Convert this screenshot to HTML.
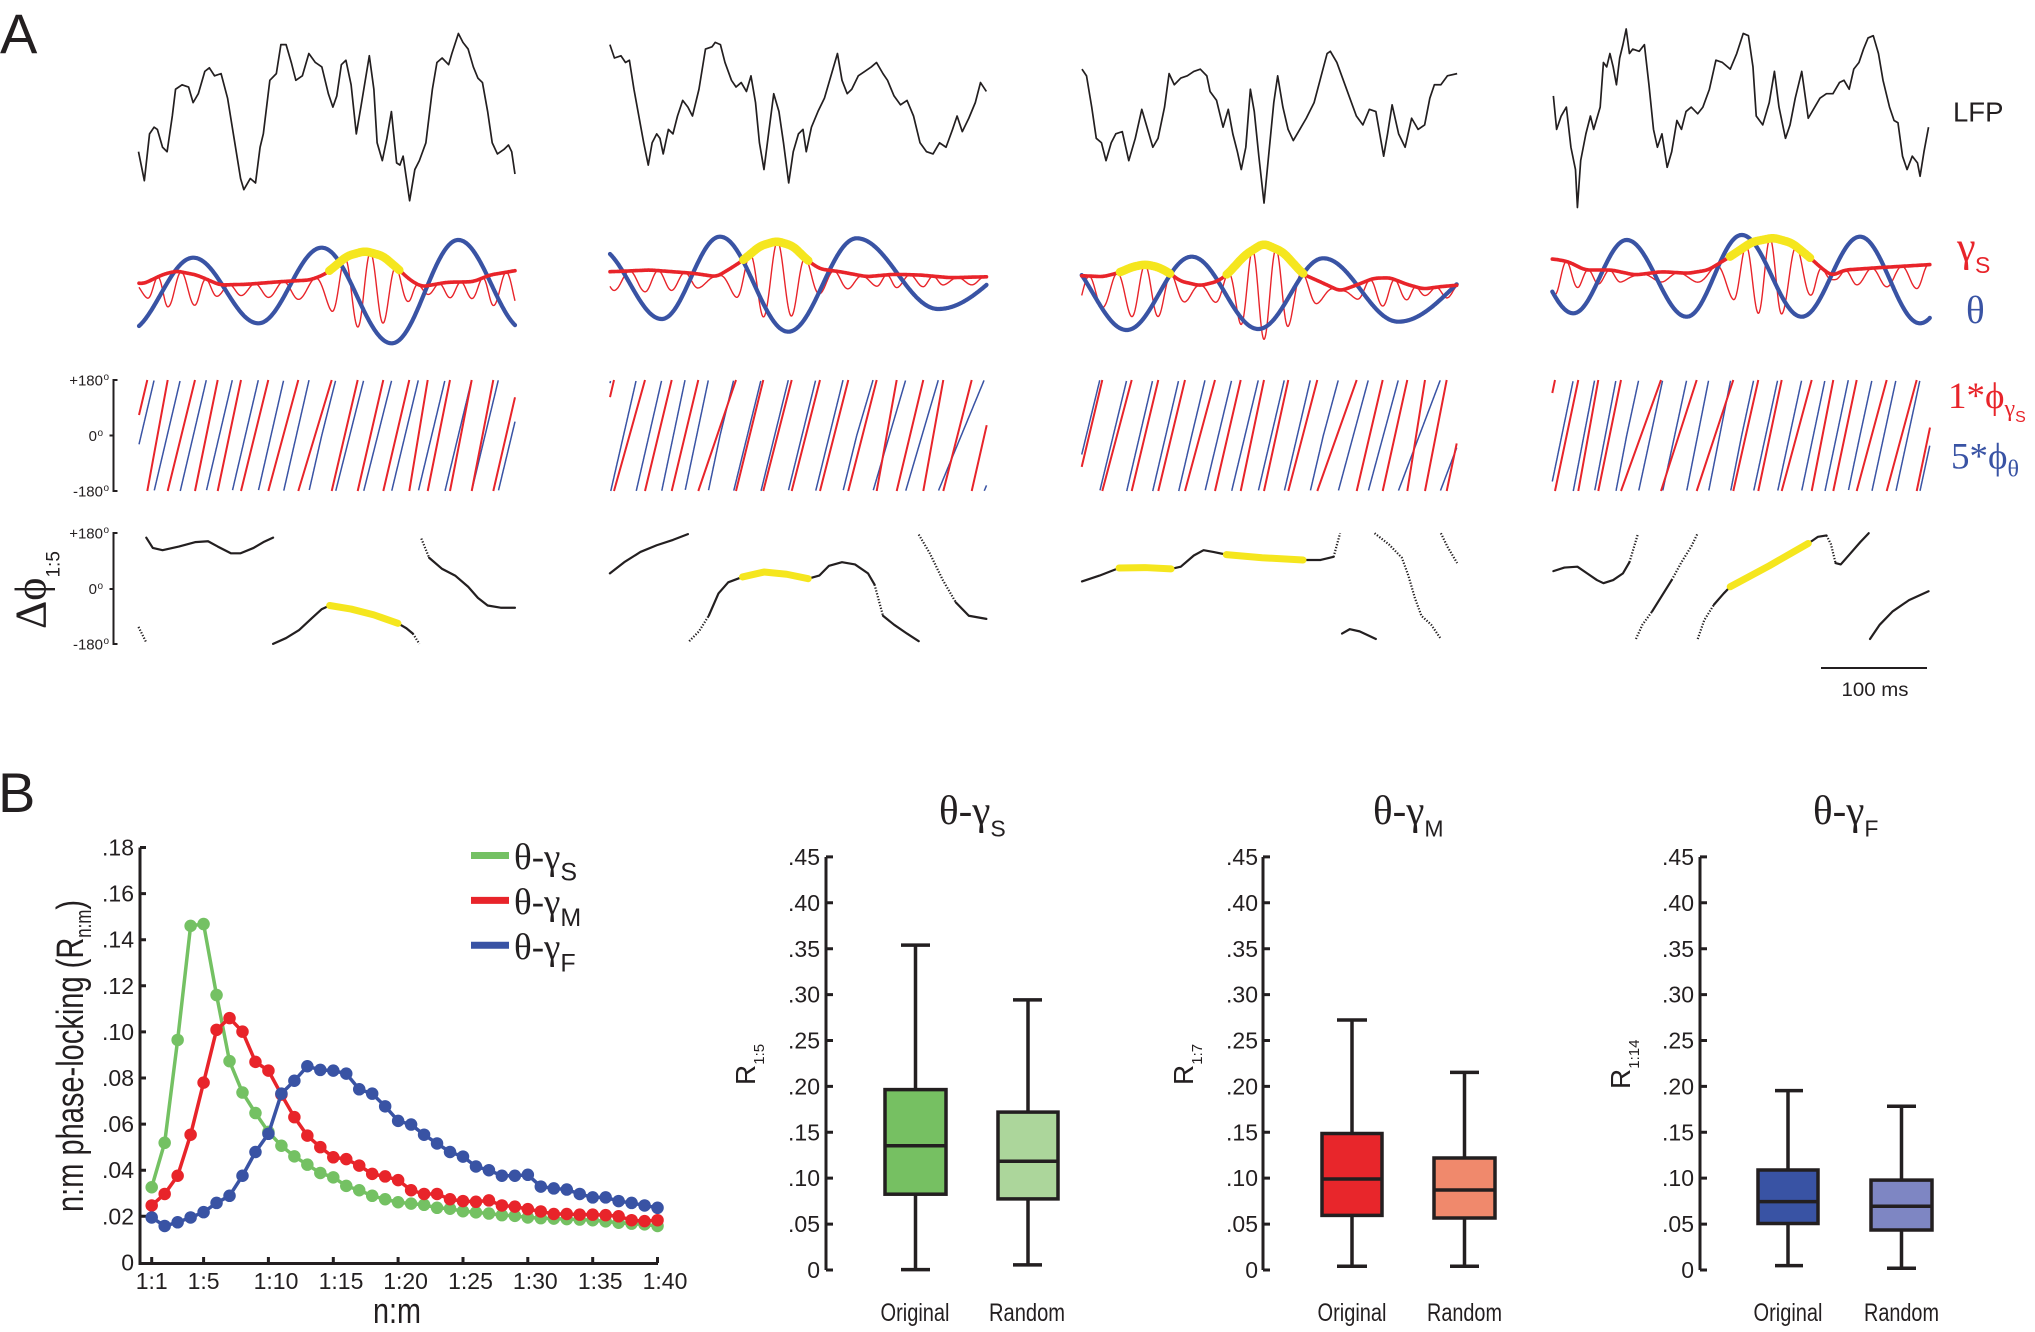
<!DOCTYPE html>
<html><head><meta charset="utf-8"><style>
html,body{margin:0;padding:0;background:#fff;}
svg{display:block;}
.s{font-family:"Liberation Sans",Arial,sans-serif;}
.r{font-family:"Liberation Serif","Times New Roman",serif;}
</style></head><body>
<svg id="fig" xmlns="http://www.w3.org/2000/svg" width="2035" height="1332" viewBox="0 0 2035 1332">
<rect width="2035" height="1332" fill="#fff"/>
<text class="s" x="0" y="53" font-size="56" fill="#231f20">A</text>
<text class="s" x="-2" y="812" font-size="56" fill="#231f20">B</text>

<!-- LFP traces -->
<g transform="scale(0.6502,0.4462)" fill="none" stroke="#231f20" stroke-linejoin="round">
<polyline vector-effect="non-scaling-stroke" stroke-width="1.7" points="213,340 222,405 230,300 237,285 242,290 250,330 257,340 265,260 270,200 280,190 290,195 297,230 305,210 315,160 322,152 330,170 340,165 350,220 360,310 370,400 375,425 385,400 393,410 400,330 405,300 410,240 415,180 425,165 432,100 440,100 448,140 455,180 465,170 475,120 485,140 495,150 505,210 512,240 518,215 525,145 532,135 540,190 548,300 555,240 568,125 575,200 580,320 588,360 595,310 602,250 610,365 615,370 620,350 625,400 630,450 638,380 645,360 655,320 665,200 672,140 680,130 690,145 695,120 705,75 712,95 720,110 728,150 735,175 742,185 750,250 757,320 765,345 775,335 782,325 787,340 792,390"/>
<polyline vector-effect="non-scaling-stroke" stroke-width="1.7" points="938,100 945,130 955,125 962,140 968,135 975,200 985,280 990,320 997,370 1003,320 1010,300 1015,310 1020,345 1028,290 1035,300 1042,260 1050,225 1058,240 1065,260 1075,200 1085,110 1095,105 1100,95 1108,100 1115,140 1125,180 1132,195 1140,185 1148,205 1155,170 1162,230 1168,320 1175,380 1182,300 1190,210 1198,250 1205,320 1213,410 1220,340 1228,300 1235,290 1240,340 1248,285 1258,250 1268,220 1280,160 1288,120 1295,180 1303,210 1310,200 1320,170 1330,160 1340,150 1348,140 1358,165 1365,180 1375,215 1385,235 1395,225 1405,260 1415,320 1425,340 1435,345 1445,320 1455,330 1465,290 1472,260 1480,295 1490,265 1500,230 1508,185 1517,205"/>
</g>
<g transform="translate(1015,0) scale(0.6502,0.4462)" fill="none" stroke="#231f20" stroke-linejoin="round">
<polyline vector-effect="non-scaling-stroke" stroke-width="1.7" points="103,155 110,170 118,240 125,310 133,320 140,360 148,320 155,300 165,295 175,360 185,310 195,245 205,295 212,330 220,310 230,240 237,165 245,190 255,175 265,170 275,160 285,155 295,170 300,205 310,225 320,285 328,245 335,300 342,340 348,380 355,330 362,200 368,250 375,350 383,455 390,350 398,230 404,170 412,240 420,290 428,315 438,290 448,265 460,230 470,175 480,120 485,115 495,140 505,180 515,220 525,260 535,280 545,245 555,250 567,350 573,300 580,235 590,300 600,330 610,265 620,290 630,280 638,220 645,190 655,190 665,170 680,165"/>
<polyline vector-effect="non-scaling-stroke" stroke-width="1.7" points="828,215 833,290 840,260 848,240 855,330 862,380 865,465 870,360 878,300 885,260 890,290 900,240 905,140 910,150 915,120 920,150 925,190 930,130 935,100 940,65 945,120 950,110 960,115 968,100 975,190 982,290 988,330 995,300 1003,375 1010,340 1018,270 1025,290 1032,250 1040,240 1050,255 1058,240 1068,200 1078,135 1088,140 1100,155 1110,120 1120,75 1128,80 1135,150 1140,260 1150,280 1160,230 1168,160 1175,240 1185,310 1192,280 1200,220 1210,160 1220,265 1228,245 1238,220 1248,210 1258,210 1268,185 1275,180 1283,200 1290,155 1298,140 1305,110 1312,85 1320,80 1328,120 1335,180 1345,240 1352,270 1358,275 1365,350 1372,380 1380,350 1388,365 1392,395 1398,340 1405,285"/>
</g>

<!-- Delta phi curves -->
<g transform="scale(0.6502,0.4462)" fill="none" stroke-linejoin="round" stroke-linecap="round">
<g stroke="#231f20" stroke-width="2.2">
<polyline vector-effect="non-scaling-stroke" points="225,1205 235,1228 250,1233 275,1225 300,1215 320,1213 335,1225 355,1240 370,1240 390,1228 405,1215 420,1205"/>
<polyline vector-effect="non-scaling-stroke" points="420,1443 440,1430 460,1412 480,1385 495,1365 507,1357"/>
<polyline vector-effect="non-scaling-stroke" points="612,1397 625,1408 635,1420"/>
<polyline vector-effect="non-scaling-stroke" points="660,1250 680,1275 700,1290 720,1315 735,1340 750,1357 770,1362 792,1362"/>
<polyline vector-effect="non-scaling-stroke" points="938,1285 960,1260 985,1237 1010,1222 1035,1210 1058,1197"/>
<polyline vector-effect="non-scaling-stroke" points="1090,1380 1105,1330 1120,1305 1142,1293"/>
<polyline vector-effect="non-scaling-stroke" points="1243,1297 1260,1290 1275,1268 1295,1260 1315,1265 1335,1285 1345,1310"/>
<polyline vector-effect="non-scaling-stroke" points="1358,1380 1375,1400 1395,1420 1413,1437"/>
<polyline vector-effect="non-scaling-stroke" points="1470,1350 1490,1380 1517,1387"/>
</g>
<g stroke="#231f20" stroke-width="2.2" stroke-dasharray="1.3 1.7" stroke-linecap="butt">
<polyline vector-effect="non-scaling-stroke" points="213,1405 225,1440"/>
<polyline vector-effect="non-scaling-stroke" points="635,1420 645,1443"/>
<polyline vector-effect="non-scaling-stroke" points="648,1207 660,1250"/>
<polyline vector-effect="non-scaling-stroke" points="1060,1437 1075,1415 1090,1380"/>
<polyline vector-effect="non-scaling-stroke" points="1345,1310 1358,1380"/>
<polyline vector-effect="non-scaling-stroke" points="1413,1198 1430,1240 1450,1300 1470,1350"/>
</g>
<g stroke="#f5e61e" stroke-width="7">
<polyline vector-effect="non-scaling-stroke" points="507,1357 540,1365 575,1378 612,1397"/>
<polyline vector-effect="non-scaling-stroke" points="1142,1293 1175,1282 1210,1287 1243,1297"/>
</g>
</g>
<g transform="translate(1015,0) scale(0.6502,0.4462)" fill="none" stroke-linejoin="round" stroke-linecap="round">
<g stroke="#231f20" stroke-width="2.2">
<polyline vector-effect="non-scaling-stroke" points="103,1303 130,1290 160,1273"/>
<polyline vector-effect="non-scaling-stroke" points="240,1275 255,1270 275,1245 290,1233 305,1237 325,1243"/>
<polyline vector-effect="non-scaling-stroke" points="443,1255 470,1255 490,1248"/>
<polyline vector-effect="non-scaling-stroke" points="503,1420 515,1410 530,1415 555,1432"/>
<polyline vector-effect="non-scaling-stroke" points="828,1280 845,1272 865,1270 880,1285 895,1300 905,1307 920,1300 935,1285 945,1260"/>
<polyline vector-effect="non-scaling-stroke" points="980,1370 995,1335 1010,1300"/>
<polyline vector-effect="non-scaling-stroke" points="1075,1355 1090,1330 1100,1315"/>
<polyline vector-effect="non-scaling-stroke" points="1220,1218 1235,1203 1248,1200"/>
<polyline vector-effect="non-scaling-stroke" points="1262,1262 1270,1265 1285,1240 1300,1215 1313,1195"/>
<polyline vector-effect="non-scaling-stroke" points="1315,1432 1330,1400 1350,1370 1375,1345 1405,1325"/>
</g>
<g stroke="#231f20" stroke-width="2.2" stroke-dasharray="1.3 1.7" stroke-linecap="butt">
<polyline vector-effect="non-scaling-stroke" points="490,1248 500,1195"/>
<polyline vector-effect="non-scaling-stroke" points="553,1195 575,1220 595,1250 605,1290 615,1340 625,1380 640,1400 655,1432"/>
<polyline vector-effect="non-scaling-stroke" points="655,1195 665,1225 680,1262"/>
<polyline vector-effect="non-scaling-stroke" points="945,1260 958,1197"/>
<polyline vector-effect="non-scaling-stroke" points="955,1432 965,1400 980,1370"/>
<polyline vector-effect="non-scaling-stroke" points="1010,1300 1025,1260 1040,1225 1050,1195"/>
<polyline vector-effect="non-scaling-stroke" points="1050,1432 1060,1390 1075,1355"/>
<polyline vector-effect="non-scaling-stroke" points="1248,1200 1255,1220 1262,1262"/>
</g>
<g stroke="#f5e61e" stroke-width="7">
<polyline vector-effect="non-scaling-stroke" points="160,1273 200,1272 240,1275"/>
<polyline vector-effect="non-scaling-stroke" points="325,1243 380,1250 443,1255"/>
<polyline vector-effect="non-scaling-stroke" points="1100,1315 1160,1268 1220,1218"/>
</g>
</g>

<!-- Panel A axes -->
<g stroke="#231f20" stroke-width="2" fill="none">
<path d="M117.5 380H113.5V491H117.5M109.5 435.5H113.5"/>
<path d="M117.5 533H113.5V644H117.5M109.5 589H113.5"/>
</g>
<g class="s" font-size="15" fill="#231f20" text-anchor="end">
<text x="103" y="385.5">+180</text><text x="97" y="441">0</text><text x="103" y="496.5">-180</text>
<text x="103" y="538.5">+180</text><text x="97" y="594">0</text><text x="103" y="649.5">-180</text>
</g>
<g class="s" font-size="10" fill="#231f20">
<text x="103.5" y="380">o</text><text x="97.5" y="436">o</text><text x="103.5" y="491">o</text>
<text x="103.5" y="533">o</text><text x="97.5" y="589">o</text><text x="103.5" y="644">o</text>
</g>
<text class="r" transform="translate(45.5,629) rotate(-90)" font-size="44" fill="#231f20">Δϕ<tspan font-family="Liberation Sans, Arial, sans-serif" font-size="19" dy="14">1:5</tspan></text>

<!-- Right labels -->
<text class="s" x="1953" y="121.4" font-size="27.5" fill="#231f20">LFP</text>
<text class="r" x="1957" y="261" font-size="42" fill="#e8242a">γ</text>
<text class="s" x="1975" y="273" font-size="23" fill="#e8242a">S</text>
<text class="r" x="1966" y="323" font-size="39" fill="#3953a4">θ</text>
<text class="r" x="1948" y="408" font-size="37" fill="#e8242a">1*ϕ<tspan font-size="24" dy="8">γ</tspan><tspan font-family="Liberation Sans, Arial, sans-serif" font-size="16" dy="6">S</tspan></text>
<text class="r" x="1951" y="468.5" font-size="37" fill="#3953a4">5*ϕ<tspan font-size="24" dy="8">θ</tspan></text>
<path d="M1821 668H1927" stroke="#231f20" stroke-width="2"/>
<text class="s" x="1875" y="696" font-size="19" text-anchor="middle" fill="#231f20" textLength="67" lengthAdjust="spacingAndGlyphs">100 ms</text>

<g id="dyn"></g>

<!-- Panel B line chart -->
<g stroke="#231f20" stroke-width="3" fill="none">
<path d="M140 847.5V1263.5H658"/>
<path d="M140 1216.3h6M140 1170.2h6M140 1124.1h6M140 1078h6M140 1031.9h6M140 985.8h6M140 939.7h6M140 893.6h6M140 847.5h6"/>
<path d="M151.7 1263v-6M203.6 1263v-6M268.4 1263v-6M333.3 1263v-6M398.1 1263v-6M463 1263v-6M527.8 1263v-6M592.7 1263v-6M657.5 1263v-6"/>
</g>
<g class="s" font-size="23" fill="#231f20" text-anchor="end">
<text x="134" y="1270.4">0</text><text x="134" y="1224.3">.02</text><text x="134" y="1178.2">.04</text><text x="134" y="1132.1">.06</text><text x="134" y="1086">.08</text><text x="134" y="1039.9">.10</text><text x="134" y="993.8">.12</text><text x="134" y="947.7">.14</text><text x="134" y="901.6">.16</text><text x="134" y="855.5">.18</text>
</g>
<g class="s" font-size="23" fill="#231f20" text-anchor="middle">
<text x="151.7" y="1289">1:1</text><text x="203.6" y="1289">1:5</text><text x="276" y="1289">1:10</text><text x="341" y="1289">1:15</text><text x="405.6" y="1289">1:20</text><text x="470.5" y="1289">1:25</text><text x="535.3" y="1289">1:30</text><text x="600.2" y="1289">1:35</text><text x="665" y="1289">1:40</text>
</g>
<text class="s" x="397" y="1323" font-size="36" text-anchor="middle" fill="#231f20" textLength="48" lengthAdjust="spacingAndGlyphs">n:m</text>
<text class="s" transform="translate(83,1212) rotate(-90)" font-size="38" fill="#231f20" textLength="312" lengthAdjust="spacingAndGlyphs">n:m phase-locking (R<tspan font-size="22" dy="8">n:m</tspan><tspan dy="-8">)</tspan></text>

<g transform="translate(151.7,1262.4) scale(12.97,-2305)" fill="none" stroke-linejoin="round">
<path vector-effect="non-scaling-stroke" stroke="#74c163" stroke-width="3.5" d="M0 .0326L1 .0519L2 .0965L3 .146L4 .1468L5 .116L6 .0873L7 .0737L8 .0648L9 .0566L10 .0506L11 .046L12 .0424L13 .0388L14 .0369L15 .0332L16 .0313L17 .0289L18 .0274L19 .0261L20 .0255L21 .025L22 .0237L23 .0233L24 .0222L25 .0217L26 .0212L27 .0205L28 .0202L29 .0195L30 .0192L31 .019L32 .0188L33 .0186L34 .0183L35 .0178L36 .0172L37 .0168L38 .0165L39 .0158"/>
<path vector-effect="non-scaling-stroke" stroke="#74c163" stroke-width="12.5" stroke-linecap="round" d="M0 .0326h.001M1 .0519h.001M2 .0965h.001M3 .146h.001M4 .1468h.001M5 .116h.001M6 .0873h.001M7 .0737h.001M8 .0648h.001M9 .0566h.001M10 .0506h.001M11 .046h.001M12 .0424h.001M13 .0388h.001M14 .0369h.001M15 .0332h.001M16 .0313h.001M17 .0289h.001M18 .0274h.001M19 .0261h.001M20 .0255h.001M21 .025h.001M22 .0237h.001M23 .0233h.001M24 .0222h.001M25 .0217h.001M26 .0212h.001M27 .0205h.001M28 .0202h.001M29 .0195h.001M30 .0192h.001M31 .019h.001M32 .0188h.001M33 .0186h.001M34 .0183h.001M35 .0178h.001M36 .0172h.001M37 .0168h.001M38 .0165h.001M39 .0158h.001"/>
<path vector-effect="non-scaling-stroke" stroke="#e8242a" stroke-width="3.5" d="M0 .0247L1 .0297L2 .0376L3 .0554L4 .078L5 .1009L6 .106L7 .1001L8 .087L9 .0832L10 .0728L11 .063L12 .055L13 .05L14 .0456L15 .0448L16 .042L17 .0384L18 .0373L19 .0357L20 .0313L21 .0297L22 .0297L23 .0274L24 .0266L25 .0263L26 .0269L27 .0247L28 .0242L29 .0231L30 .0221L31 .021L32 .021L33 .0207L34 .0207L35 .0205L36 .02L37 .0183L38 .0179L39 .0183"/>
<path vector-effect="non-scaling-stroke" stroke="#e8242a" stroke-width="12.5" stroke-linecap="round" d="M0 .0247h.001M1 .0297h.001M2 .0376h.001M3 .0554h.001M4 .078h.001M5 .1009h.001M6 .106h.001M7 .1001h.001M8 .087h.001M9 .0832h.001M10 .0728h.001M11 .063h.001M12 .055h.001M13 .05h.001M14 .0456h.001M15 .0448h.001M16 .042h.001M17 .0384h.001M18 .0373h.001M19 .0357h.001M20 .0313h.001M21 .0297h.001M22 .0297h.001M23 .0274h.001M24 .0266h.001M25 .0263h.001M26 .0269h.001M27 .0247h.001M28 .0242h.001M29 .0231h.001M30 .0221h.001M31 .021h.001M32 .021h.001M33 .0207h.001M34 .0207h.001M35 .0205h.001M36 .02h.001M37 .0183h.001M38 .0179h.001M39 .0183h.001"/>
<path vector-effect="non-scaling-stroke" stroke="#3953a4" stroke-width="3.5" d="M0 .0195L1 .0158L2 .0174L3 .0195L4 .0218L5 .0258L6 .0289L7 .0376L8 .0479L9 .0558L10 .0732L11 .0788L12 .0851L13 .0835L14 .0832L15 .0819L16 .0751L17 .0732L18 .0677L19 .0614L20 .0598L21 .0554L22 .0516L23 .0479L24 .0459L25 .0416L26 .04L27 .0376L28 .0376L29 .038L30 .0329L31 .0321L32 .0316L33 .0297L34 .0282L35 .0282L36 .0266L37 .0258L38 .0247L39 .0237"/>
<path vector-effect="non-scaling-stroke" stroke="#3953a4" stroke-width="12.5" stroke-linecap="round" d="M0 .0195h.001M1 .0158h.001M2 .0174h.001M3 .0195h.001M4 .0218h.001M5 .0258h.001M6 .0289h.001M7 .0376h.001M8 .0479h.001M9 .0558h.001M10 .0732h.001M11 .0788h.001M12 .0851h.001M13 .0835h.001M14 .0832h.001M15 .0819h.001M16 .0751h.001M17 .0732h.001M18 .0677h.001M19 .0614h.001M20 .0598h.001M21 .0554h.001M22 .0516h.001M23 .0479h.001M24 .0459h.001M25 .0416h.001M26 .04h.001M27 .0376h.001M28 .0376h.001M29 .038h.001M30 .0329h.001M31 .0321h.001M32 .0316h.001M33 .0297h.001M34 .0282h.001M35 .0282h.001M36 .0266h.001M37 .0258h.001M38 .0247h.001M39 .0237h.001"/>
</g>

<!-- legend -->
<path d="M471 855.5H509" stroke="#74c163" stroke-width="7"/>
<path d="M471 900.4H509" stroke="#e8242a" stroke-width="7"/>
<path d="M471 945.2H509" stroke="#3953a4" stroke-width="7"/>
<g fill="#231f20">
<text class="r" x="514" y="869" font-size="37">θ-γ<tspan font-family="Liberation Sans, Arial, sans-serif" font-size="25" dy="11.5">S</tspan></text>
<text class="r" x="514" y="914" font-size="37">θ-γ<tspan font-family="Liberation Sans, Arial, sans-serif" font-size="25" dy="12">M</tspan></text>
<text class="r" x="514" y="959" font-size="37">θ-γ<tspan font-family="Liberation Sans, Arial, sans-serif" font-size="25" dy="12.5">F</tspan></text>
</g>

<!-- Box plots -->
<g stroke="#231f20" stroke-width="3" fill="none">
<path d="M826 857V1270"/>
<path d="M826 1224.1h7M826 1178.1h7M826 1132.3h7M826 1086.4h7M826 1040.5h7M826 994.6h7M826 948.7h7M826 902.8h7M826 856.9h7M826 1270h7"/>
<path d="M1263 857V1270"/>
<path d="M1263 1224.1h7M1263 1178.1h7M1263 1132.3h7M1263 1086.4h7M1263 1040.5h7M1263 994.6h7M1263 948.7h7M1263 902.8h7M1263 856.9h7M1263 1270h7"/>
<path d="M1700 857V1270"/>
<path d="M1700 1224.1h7M1700 1178.1h7M1700 1132.3h7M1700 1086.4h7M1700 1040.5h7M1700 994.6h7M1700 948.7h7M1700 902.8h7M1700 856.9h7M1700 1270h7"/>
</g>
<g class="s" font-size="23" fill="#231f20" text-anchor="end">
<text x="820" y="1278">0</text>
<text x="820" y="1232.2">.05</text><text x="820" y="1186.2">.10</text><text x="820" y="1140.4">.15</text><text x="820" y="1094.5">.20</text><text x="820" y="1048.6">.25</text><text x="820" y="1002.7">.30</text><text x="820" y="956.8">.35</text><text x="820" y="910.9">.40</text><text x="820" y="865">.45</text>
<text x="1258" y="1278">0</text>
<text x="1258" y="1232.2">.05</text><text x="1258" y="1186.2">.10</text><text x="1258" y="1140.4">.15</text><text x="1258" y="1094.5">.20</text><text x="1258" y="1048.6">.25</text><text x="1258" y="1002.7">.30</text><text x="1258" y="956.8">.35</text><text x="1258" y="910.9">.40</text><text x="1258" y="865">.45</text>
<text x="1694" y="1278">0</text>
<text x="1694" y="1232.2">.05</text><text x="1694" y="1186.2">.10</text><text x="1694" y="1140.4">.15</text><text x="1694" y="1094.5">.20</text><text x="1694" y="1048.6">.25</text><text x="1694" y="1002.7">.30</text><text x="1694" y="956.8">.35</text><text x="1694" y="910.9">.40</text><text x="1694" y="865">.45</text>
</g>

<!-- boxes -->
<g stroke="#231f20" stroke-width="3.5">
<path d="M915.5 945.1V1089.6M915.5 1194.2V1269.6M901 945.1H930M901 1269.6H930"/>
<rect x="885" y="1089.6" width="61" height="104.6" fill="#76c062"/>
<path d="M885 1145.7H946"/>
<path d="M1028 999.9V1112.1M1028 1198.9V1264.9M1013 999.9H1042M1013 1264.9H1042"/>
<rect x="998" y="1112.1" width="60" height="86.8" fill="#acd69b"/>
<path d="M998 1161.3H1058"/>

<path d="M1352 1020V1133.5M1352 1215.4V1266.3M1337 1020H1367M1337 1266.3H1367"/>
<rect x="1322" y="1133.5" width="60" height="81.9" fill="#e8262b"/>
<path d="M1322 1179H1382"/>
<path d="M1464.5 1072.4V1158M1464.5 1218V1266.3M1450 1072.4H1479M1450 1266.3H1479"/>
<rect x="1434" y="1158" width="61" height="60" fill="#f0896c"/>
<path d="M1434 1190H1495"/>

<path d="M1788 1090.6V1170M1788 1223.5V1265.6M1775 1090.6H1803M1775 1265.6H1803"/>
<rect x="1758" y="1170" width="60" height="53.5" fill="#3953a4"/>
<path d="M1758 1201.6H1818"/>
<path d="M1901.5 1106.3V1180.1M1901.5 1230V1268.2M1887 1106.3H1916M1887 1268.2H1916"/>
<rect x="1871" y="1180.1" width="61" height="49.9" fill="#7e86c3"/>
<path d="M1871 1206.3H1932"/>
</g>

<!-- box titles -->
<g fill="#231f20">
<text class="r" x="939" y="824" font-size="41">θ-γ<tspan font-family="Liberation Sans, Arial, sans-serif" font-size="23" dy="12.6">S</tspan></text>
<text class="r" x="1373" y="824" font-size="41">θ-γ<tspan font-family="Liberation Sans, Arial, sans-serif" font-size="23" dy="12.6">M</tspan></text>
<text class="r" x="1813" y="824" font-size="41">θ-γ<tspan font-family="Liberation Sans, Arial, sans-serif" font-size="23" dy="12.6">F</tspan></text>
</g>
<!-- R labels -->
<g class="s" fill="#231f20">
<text transform="translate(755,1085) rotate(-90)" font-size="28">R<tspan font-size="15" dy="9">1:5</tspan></text>
<text transform="translate(1193,1085) rotate(-90)" font-size="28">R<tspan font-size="15" dy="9">1:7</tspan></text>
<text transform="translate(1630,1089) rotate(-90)" font-size="28">R<tspan font-size="15" dy="9">1:14</tspan></text>
</g>
<!-- category labels -->
<g class="s" font-size="25" fill="#231f20" text-anchor="middle">
<text x="915" y="1321" textLength="69" lengthAdjust="spacingAndGlyphs">Original</text>
<text x="1027" y="1321" textLength="76" lengthAdjust="spacingAndGlyphs">Random</text>
<text x="1352" y="1321" textLength="69" lengthAdjust="spacingAndGlyphs">Original</text>
<text x="1464.5" y="1321" textLength="75" lengthAdjust="spacingAndGlyphs">Random</text>
<text x="1788" y="1321" textLength="69" lengthAdjust="spacingAndGlyphs">Original</text>
<text x="1901.5" y="1321" textLength="75" lengthAdjust="spacingAndGlyphs">Random</text>
</g>
</svg>
<script>
(function(){
var NS='http://www.w3.org/2000/svg';
var root=document.getElementById('dyn');
function add(tag,attrs){var e=document.createElementNS(NS,tag);for(var k in attrs)e.setAttribute(k,attrs[k]);root.appendChild(e);return e;}
function lin(p,x){if(x<=p[0][0])return p[0][1];for(var i=0;i<p.length-1;i++){if(x<=p[i+1][0]){var t=(x-p[i][0])/(p[i+1][0]-p[i][0]);return p[i][1]+t*(p[i+1][1]-p[i][1]);}}return p[p.length-1][1];}
function blueY(ext,x){for(var i=0;i<ext.length-1;i++){if(x<=ext[i+1][0]){var x1=ext[i][0],x2=ext[i+1][0],y1=ext[i][1],y2=ext[i+1][1],t=(x-x1)/(x2-x1);return (y1+y2)/2+(y1-y2)/2*Math.cos(Math.PI*t);}}return ext[ext.length-1][1];}
function thPh(ext,fp,x){for(var i=0;i<ext.length-1;i++){if(x<=ext[i+1][0]){var t=(x-ext[i][0])/(ext[i+1][0]-ext[i][0]);return (i+t)*Math.PI+(fp?0:Math.PI);}}return 0;}
function gPh(T,x){for(var i=0;i<T.length-1;i++){if(x>=T[i]&&x<=T[i+1]){return -Math.PI+2*Math.PI*(x-T[i])/(T[i+1]-T[i]);}}return 0;}
function d(pts){var s='';for(var i=0;i<pts.length;i++){s+=(i?'L':'M')+pts[i][0].toFixed(1)+' '+pts[i][1].toFixed(1);}return s;}
var cols=[
{xs:139,xe:515,c:290,fp:false,
 ext:[[128,331],[193.3,257.7],[258.3,323.3],[321.7,247.7],[391.7,343.3],[458.3,240],[525,330]],
 env:[[130,281.7],[143,284],[163.3,274.3],[176.7,271],[196.7,275],[220,285],[246.7,284.3],[280,281.7],[310,280],[323.3,275],[329.3,271],[347,256],[365,251],[383,256],[399.3,270],[410,280],[421.7,286.7],[446.7,282.3],[473.3,281.7],[490,275],[525,269]],
 yel:[[329.3,399.3]],
 T:[121,147.3,167.7,195,217.7,241,268.3,298.3,331.7,357.7,383.3,409.3,427.7,450,471.7,493.3,519,545]},
{xs:610,xe:986.7,c:281,fp:true,
 ext:[[598,248],[661.7,319],[720,236.7],[788.3,331.7],[856.7,238.3],[938.3,309],[1053,245]],
 env:[[605,271.7],[611.7,271.7],[650,270],[693.3,273.3],[716.7,276.7],[733.3,266.7],[743.3,260],[760,246],[776.7,241],[793,246],[808.3,261],[820,269],[840,271.7],[866.7,276.7],[893.3,274.3],[920,275],[950,277.7],[990,276.7]],
 yel:[[743.3,808.3]],
 T:[588,614,645,671.7,698.3,736,763.3,791.7,820,848.3,876.7,896.7,923.3,943.3,971.7,997]},
{xs:1081.7,xe:1456.7,c:292,fp:true,
 ext:[[1059.4,257],[1126.7,330],[1191.7,256.7],[1258.3,329],[1323.3,258.3],[1398.3,321.7],[1503.3,258]],
 env:[[1076,275.7],[1081.7,275.7],[1103.3,276.7],[1120,272.3],[1132,267],[1145,264.3],[1158,267],[1170,273.3],[1180,281],[1200,285.7],[1216.7,281.7],[1226.7,275],[1245,255],[1263.3,243.3],[1283,252],[1303.3,274.3],[1320,281.7],[1340,291],[1356.7,285],[1373.3,278.3],[1390,277.7],[1406.7,284.3],[1423.3,289],[1440,286.7],[1460,285]],
 yel:[[1120,1170],[1226.7,1303.3]],
 T:[1076,1102.3,1131.7,1158.3,1185,1215,1240.7,1264,1288.3,1317.3,1356.7,1382.7,1407.3,1425,1446.7,1470]},
{xs:1552.3,xe:1930,c:277,fp:true,
 ext:[[1515.9,240],[1573.3,313.3],[1626.7,240],[1686.7,316.7],[1741.7,235],[1801.7,316.7],[1860,236.7],[1920,323.3],[1980,240]],
 env:[[1550,259],[1554.3,259],[1568.3,261.7],[1585,270],[1611.7,270],[1635,275],[1661.7,271.7],[1688.3,273.3],[1708.3,270],[1730,256.7],[1752,242],[1773.3,237.7],[1792,243],[1810,257.7],[1821.7,268.3],[1831.7,275.7],[1845,270],[1878.3,267.7],[1935,264.3]],
 yel:[[1730,1810]],
 T:[1532,1555,1578.3,1598.3,1621,1661,1696.7,1733.3,1758.3,1781.7,1811.7,1833.3,1856.7,1886.7,1916.7,1940]}
];
var RED='#e8242a',BLUE='#3953a4',YEL='#f5e61e';
var PT=380,PB=491,PC=(PT+PB)/2,PH=(PB-PT)/2;
cols.forEach(function(C){
  var raw=[],x;
  for(x=C.xs-12;x<=C.xe+12;x+=0.5)raw.push([x,lin(C.env,x)]);
  var sm=[],R=10;
  for(var i=0;i<raw.length;i++){var s=0,n=0;for(var j=Math.max(0,i-R);j<=Math.min(raw.length-1,i+R);j++){s+=raw[j][1];n++;}sm.push([raw[i][0],s/n]);}
  function env(x){return lin(sm,x);}
  var g=[];for(x=C.xs;x<=C.xe;x+=0.5){var e=env(x);g.push([x,C.c-(C.c-e)*Math.cos(gPh(C.T,x))]);}
  add('path',{d:d(g),fill:'none',stroke:RED,'stroke-width':1.4,'stroke-linejoin':'round'});
  var b=[];for(x=C.xs;x<=C.xe;x+=0.5)b.push([x,blueY(C.ext,x)]);
  add('path',{d:d(b),fill:'none',stroke:BLUE,'stroke-width':4.2,'stroke-linecap':'round'});
  var ev=[];for(x=C.xs;x<=C.xe;x+=0.5)ev.push([x,env(x)]);
  add('path',{d:d(ev),fill:'none',stroke:RED,'stroke-width':3.6,'stroke-linecap':'round'});
  C.yel.forEach(function(r){var y=[];for(var xx=r[0];xx<=r[1];xx+=0.5)y.push([xx,env(xx)]);
    add('path',{d:d(y),fill:'none',stroke:YEL,'stroke-width':8.5,'stroke-linecap':'round'});});
  var segs=[],cur=[],prev=null;
  for(x=C.xs;x<=C.xe;x+=0.25){
    var p=5*thPh(C.ext,C.fp,x);var w=((p+Math.PI)%(2*Math.PI)+2*Math.PI)%(2*Math.PI)-Math.PI;
    if(prev!==null&&w<prev){if(cur.length>1)segs.push(cur);cur=[];}
    cur.push([x,PC-w/Math.PI*PH]);prev=w;}
  if(cur.length>1)segs.push(cur);
  add('path',{d:segs.map(d).join(''),fill:'none',stroke:BLUE,'stroke-width':1.5});
  var rd='';
  for(var k=0;k<C.T.length-1;k++){
    var a=C.T[k],bb=C.T[k+1];var x1=Math.max(a,C.xs),x2=Math.min(bb,C.xe);if(x2<=x1)continue;
    var y1=PB-(x1-a)/(bb-a)*(PB-PT),y2=PB-(x2-a)/(bb-a)*(PB-PT);
    rd+='M'+x1.toFixed(1)+' '+y1.toFixed(1)+'L'+x2.toFixed(1)+' '+y2.toFixed(1);}
  add('path',{d:rd,fill:'none',stroke:RED,'stroke-width':2});
});
})();
</script>
</body></html>
